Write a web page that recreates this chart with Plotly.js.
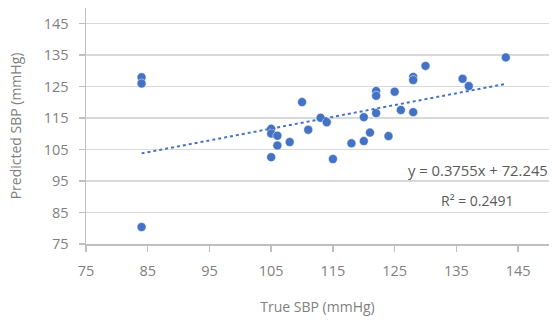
<!DOCTYPE html>
<html>
<head>
<meta charset="utf-8">
<script src="https://cdn.plot.ly/plotly-3.0.1.min.js"></script>
<style>html,body{margin:0;padding:0;background:#fff;}#chart{width:552px;height:320px;}</style>
</head>
<body>
<div id="chart"></div>
<script>
var trueSBP = [84, 84, 84, 105, 105, 105, 106, 106, 108, 110, 111, 113, 114, 115, 118, 120, 120, 121, 122, 122, 122, 124, 125, 126, 128, 128, 128, 130, 136, 137, 143];
var predSBP = [128, 126, 80.4, 111.6, 110.1, 102.6, 109.4, 106.3, 107.4, 120.1, 111.3, 115.1, 113.7, 102, 107, 107.7, 115.3, 110.4, 123.6, 122.1, 116.6, 109.3, 123.4, 117.6, 128.1, 127.1, 116.9, 131.6, 127.5, 125.2, 134.3];
var trendX = [84, 143];
var trendY = [103.8, 125.9];
var eqText = "y = 0.3755x + 72.245";
var r2Text = "R² = 0.2491";
var tickVals = [75, 85, 95, 105, 115, 125, 135, 145];

var fontFam = '"Open Sans", "Noto Sans", sans-serif';
var gray = '#7f7f7f';

var data = [
  {x: trueSBP, y: predSBP, type: 'scatter', mode: 'markers',
   marker: {color: '#4472C4', size: 9, line: {color: '#ffffff', width: 0.5}},
   hoverinfo: 'skip', showlegend: false},
  {x: trendX, y: trendY, type: 'scatter', mode: 'lines',
   line: {color: '#4472C4', width: 2, dash: 'dot'},
   hoverinfo: 'skip', showlegend: false}
];

var layout = {
  width: 552, height: 320,
  margin: {l: 86, r: 3, t: 8, b: 76},
  paper_bgcolor: '#ffffff', plot_bgcolor: '#ffffff',
  font: {family: fontFam, color: gray, size: 14},
  xaxis: {
    range: [75, 150], tickvals: tickVals, ticktext: tickVals.map(String),
    showgrid: false, zeroline: false,
    showline: true, linecolor: '#bfbfbf', linewidth: 1.5,
    ticks: 'outside', ticklen: 6, tickcolor: '#bfbfbf', tickwidth: 1.5,
    ticklabelstandoff: 7,
    tickfont: {size: 14.5, color: gray},
    title: {text: 'True SBP (mmHg)', font: {size: 14, color: gray}, standoff: 23}
  },
  yaxis: {
    range: [75, 150], tickvals: tickVals, ticktext: tickVals.map(String),
    showgrid: true, gridcolor: '#d9d9d9', gridwidth: 1.5, zeroline: false,
    showline: true, linecolor: '#bfbfbf', linewidth: 1.5,
    ticks: 'outside', ticklen: 6, tickcolor: '#bfbfbf', tickwidth: 1.5,
    ticklabelstandoff: 7,
    tickfont: {size: 14.5, color: gray},
    title: {text: 'Predicted SBP (mmHg)', font: {size: 14, color: gray}, standoff: 19}
  },
  annotations: [
    {x: 126.9, y: 98.6, xref: 'x', yref: 'y', text: eqText, showarrow: false,
     xanchor: 'left', yanchor: 'middle', font: {size: 14.8, color: '#595959', family: fontFam}},
    {x: 132.2, y: 88.8, xref: 'x', yref: 'y', text: r2Text, showarrow: false,
     xanchor: 'left', yanchor: 'middle', font: {size: 14, color: '#595959', family: fontFam}}
  ]
};

Plotly.newPlot('chart', data, layout, {staticPlot: true, displayModeBar: false});
</script>
</body>
</html>
